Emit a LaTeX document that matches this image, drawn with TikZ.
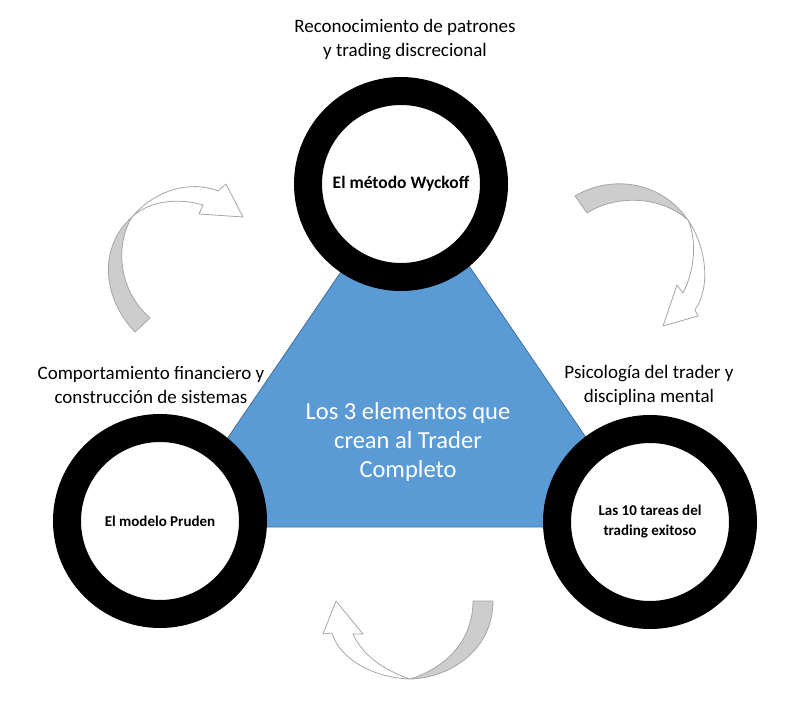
\documentclass[tikz,border=0pt]{standalone}
\usepackage{fontspec}
\setmainfont{Carlito}
\definecolor{azul}{RGB}{91,155,213}
\definecolor{azulborde}{RGB}{65,113,156}
\definecolor{grisfondo}{RGB}{205,205,205}
\definecolor{grislinea}{RGB}{165,165,165}
\begin{document}
\begin{tikzpicture}[x=1pt,y=-1pt,
  anillo/.style={circle,draw=black,fill=white,line width=28pt,minimum size=186pt,
    inner sep=0pt,align=center,font=\fontsize{15}{20}\selectfont\bfseries},
  etiqueta/.style={align=center,font=\fontsize{19}{24}\selectfont},
  flechagris/.style={draw=grislinea,fill=grisfondo,line width=0.8pt,line join=round},
  flechablanca/.style={draw=grislinea,fill=white,line width=0.8pt,line join=round}]
\useasboundingbox (0,0) rectangle (800,703);

% triangulo central
\coordinate (vsup) at (407,175);
\coordinate (vizq) at (167,527);
\coordinate (vder) at (647,527);
\draw[fill=azul,draw=azulborde,line width=0.8pt] (vsup) -- (vizq) -- (vder) -- cycle;
\node[align=center,text=white,font=\fontsize{24.5}{29}\selectfont] (centro) at (408,442)
  {Los 3 elementos que\\crean al Trader\\Completo};

% anillos
\node[anillo,font=\fontsize{17.5}{22}\selectfont\bfseries] (wyckoff) at (401,184) {El método Wyckoff};
\node[anillo] (pruden) at (160,521) {El modelo Pruden};
\node[anillo] (tareas) at (650,522) {Las 10 tareas del\\trading exitoso};

% etiquetas
\node[etiqueta] (patrones) at (405,40) {Reconocimiento de patrones\\y trading discrecional};
\node[etiqueta] (sistemas) at (151,385) {Comportamiento financiero y\\construcción de sistemas};
\node[etiqueta] (psico) at (649,385) {Psicología del trader y\\disciplina mental};

% flecha izquierda
\filldraw[flechagris] (135,332) -- (150,318)
  .. controls (118,290) and (115,245) .. (132,217)
  .. controls (100,245) and (100,295) .. (135,332) -- cycle;
\filldraw[flechablanca] (132,217)
  .. controls (155,190) and (190,180) .. (218,191)
  -- (226,184) -- (243,217) -- (199,214) -- (203,205)
  .. controls (180,198) and (150,200) .. (132,217) -- cycle;

% flecha derecha
\filldraw[flechagris] (575,196) -- (587,213)
  .. controls (615,195) and (660,195) .. (688,220)
  .. controls (660,180) and (610,175) .. (575,196) -- cycle;
\filldraw[flechablanca] (688,220)
  .. controls (705,245) and (712,285) .. (695,310)
  -- (698,316) -- (663,326) -- (677,285) -- (683,293)
  .. controls (695,270) and (697,240) .. (688,220) -- cycle;

% flecha inferior
\filldraw[flechagris] (473,601) -- (493,601)
  .. controls (493,650) and (450,678) .. (410,679)
  .. controls (440,670) and (473,645) .. (473,601) -- cycle;
\filldraw[flechablanca] (410,679)
  .. controls (375,678) and (340,660) .. (332,633)
  -- (323,634) -- (336,601) -- (363,634) -- (353,634)
  .. controls (365,660) and (390,672) .. (410,679) -- cycle;
\end{tikzpicture}
\end{document}
